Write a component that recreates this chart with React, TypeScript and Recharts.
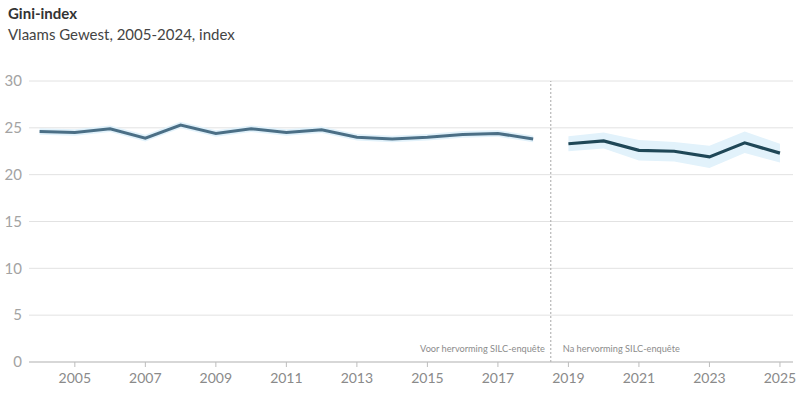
import { Area, CartesianGrid, ComposedChart, Line, ReferenceLine, XAxis, YAxis } from "recharts";

const years = [
  2004, 2005, 2006, 2007, 2008, 2009, 2010, 2011, 2012, 2013, 2014,
  2015, 2016, 2017, 2018, 2019, 2020, 2021, 2022, 2023, 2024, 2025,
];

// before the SILC reform (2004-2018)
const beforeValues = [24.6, 24.5, 24.9, 23.9, 25.3, 24.4, 24.9, 24.5, 24.8, 24.0, 23.8, 24.0, 24.3, 24.4, 23.8];
const beforeLow = [24.25, 24.15, 24.55, 23.55, 24.95, 24.05, 24.55, 24.15, 24.45, 23.65, 23.45, 23.65, 23.95, 24.05, 23.45];
const beforeHigh = [24.95, 24.85, 25.25, 24.25, 25.65, 24.75, 25.25, 24.85, 25.15, 24.35, 24.15, 24.35, 24.65, 24.75, 24.15];

// after the SILC reform (2019-2025)
const afterValues = [23.3, 23.6, 22.6, 22.5, 21.9, 23.4, 22.3];
const afterLow = [22.5, 22.8, 21.5, 21.4, 20.7, 22.3, 21.3];
const afterHigh = [24.1, 24.5, 23.7, 23.5, 23.1, 24.6, 23.3];

const xTicks = [2005, 2007, 2009, 2011, 2013, 2015, 2017, 2019, 2021, 2023, 2025];
const yTicks = [0, 5, 10, 15, 20, 25, 30];

const BEFORE_COLOR = "#4b6f86";
const AFTER_COLOR = "#1f4757";
const BAND_COLOR = "#e2f2fb";
const AXIS_TEXT = "#8a8a8a";

const data = years.map((year, i) => {
  const b = i < beforeValues.length ? i : -1;
  const a = i - beforeValues.length;
  return {
    year,
    before: b >= 0 ? beforeValues[b] : null,
    beforeBand: b >= 0 ? [beforeLow[b], beforeHigh[b]] : null,
    after: a >= 0 ? afterValues[a] : null,
    afterBand: a >= 0 ? [afterLow[a], afterHigh[a]] : null,
  };
});

function DividerLabels({ viewBox }: any) {
  const { x, y, height } = viewBox;
  const ty = y + height - 10;
  return (
    <g fontSize={9.2} fill="#8c8c8c" fontFamily="Lato">
      <text x={x - 6} y={ty} textAnchor="end">
        Voor hervorming SILC-enquête
      </text>
      <text x={x + 12} y={ty} textAnchor="start">
        Na hervorming SILC-enquête
      </text>
    </g>
  );
}

export default function App() {
  return (
    <div style={{ position: "absolute", left: 0, top: 0, width: 800, height: 397, fontFamily: "Lato", background: "#fff" }}>
      <div style={{ position: "absolute", left: 8, top: 4, fontSize: 15, fontWeight: 700, color: "#333" }}>Gini-index</div>
      <div style={{ position: "absolute", left: 8, top: 25, fontSize: 15, color: "#444" }}>
        Vlaams Gewest, 2005-2024, index
      </div>
      <div style={{ position: "absolute", left: 0, top: 0 }}>
        <ComposedChart width={800} height={397} data={data} margin={{ top: 81, right: 7, left: 0, bottom: 0 }}>
          <CartesianGrid vertical={false} stroke="#e2e2e2" />
          <XAxis
            dataKey="year"
            type="number"
            domain={[2003.7, 2025.37]}
            ticks={xTicks}
            interval={0}
            allowDataOverflow
            stroke="#bdbdbd"
            tickSize={5}
            tickMargin={6}
            height={35}
            tick={{ fill: AXIS_TEXT, fontSize: 14 }}
          />
          <YAxis
            domain={[0, 30]}
            ticks={yTicks}
            axisLine={false}
            tickLine={false}
            tickSize={0}
            tickMargin={7}
            width={29}
            tick={{ fill: "#a3a3a3", fontSize: 15 }}
          />
          <Area dataKey="beforeBand" stroke="none" fill={BAND_COLOR} fillOpacity={1} isAnimationActive={false} />
          <Area dataKey="afterBand" stroke="none" fill={BAND_COLOR} fillOpacity={1} isAnimationActive={false} />
          <Line dataKey="before" stroke={BEFORE_COLOR} strokeWidth={3} dot={false} isAnimationActive={false} />
          <Line dataKey="after" stroke={AFTER_COLOR} strokeWidth={3.2} dot={false} isAnimationActive={false} />
          <ReferenceLine x={2018.5} stroke="#a8a8a8" strokeDasharray="2 2" label={<DividerLabels />} />
        </ComposedChart>
      </div>
    </div>
  );
}
